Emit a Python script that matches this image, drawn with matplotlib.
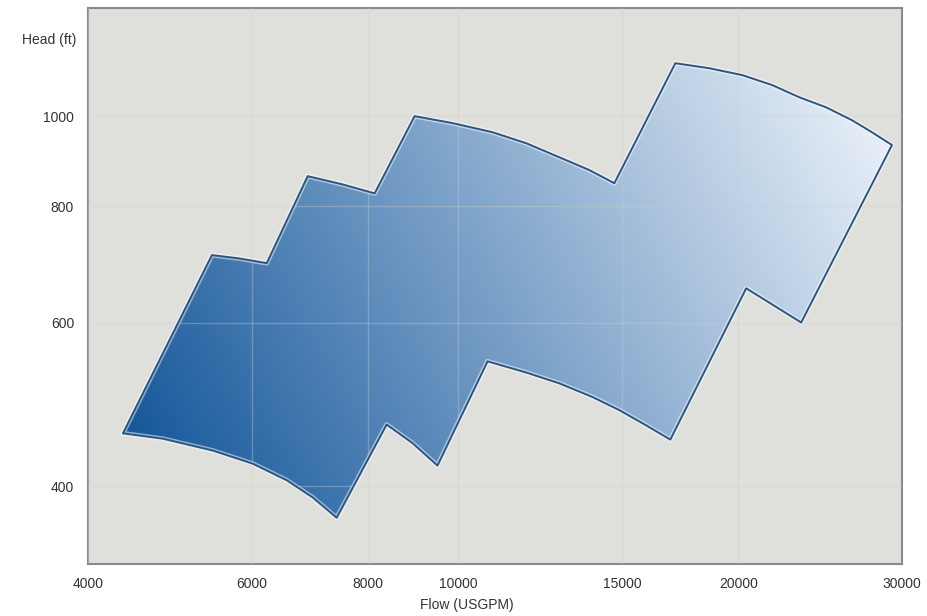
import numpy as np
import matplotlib
matplotlib.use("Agg")
import matplotlib.pyplot as plt
from matplotlib.patches import Polygon

plt.rcParams['font.family'] = ['Liberation Sans', 'DejaVu Sans']

# ---- data: outline of the pump coverage envelope (flow USGPM, head ft) ----
flow = [4361, 4814, 5447, 6015, 6542, 6978, 7403,
        8377, 8934, 9501,
        10755, 11841, 12852, 13938, 14902, 15932, 16907,
        20400, 23375,
        29265, 27845, 26507, 24866, 23257, 21753, 20198, 18616, 17118,
        14719, 13838, 12852, 11841, 10887, 9860, 8977,
        8132, 7496, 6890,
        6226, 5824, 5436]
head = [456, 450, 437, 423, 406, 389, 370,
        466, 445, 421,
        545, 530, 516, 499, 483, 465, 449,
        653, 600,
        931, 961, 990, 1022, 1048, 1080, 1107, 1126, 1140,
        847, 875, 903, 935, 961, 983, 1000,
        826, 845, 862,
        695, 703, 709]

x_ticks = [4000, 6000, 8000, 10000, 15000, 20000, 30000]
y_ticks = [400, 600, 800, 1000]

# ---- figure ----
fig = plt.figure(figsize=(9.28, 6.16), dpi=100)
ax = fig.add_axes([88/928, 52/616, 814/928, 556/616])
ax.set_facecolor('#dfdfdb')
ax.set_xscale('log')
ax.set_yscale('log')
ax.set_xlim(4000, 30000)
ax.set_ylim(330, 1307)

# gradient image in axes coords, clipped to the envelope
W, H = 400, 280
u, v = np.meshgrid(np.linspace(0, 1, W), np.linspace(1, 0, H))
px = 88 + u * 814
py = 564 - v * 556
p0 = np.array([130.0, 440.0])
d = np.array([740.0, -400.0])
t = ((px - p0[0]) * d[0] + (py - p0[1]) * d[1]) / (d @ d)
t = np.clip(t, 0, 1)[..., None]
dark = np.array([22, 88, 155]) / 255
light = np.array([240, 245, 252]) / 255
img = dark + (light - dark) * t

pts = np.column_stack([flow, head])
poly = Polygon(pts, closed=True, facecolor='none', edgecolor='none')
ax.add_patch(poly)
im = ax.imshow(img, extent=[0, 1, 0, 1], transform=ax.transAxes,
               aspect='auto', zorder=1)
im.set_clip_path(poly)

# outline with soft halo
ax.add_patch(Polygon(pts, closed=True, fill=False, edgecolor='white',
                     lw=3.5, alpha=0.5, zorder=2, joinstyle='round'))
ax.add_patch(Polygon(pts, closed=True, fill=False, edgecolor='#2c5580',
                     lw=1.4, zorder=3, joinstyle='round'))

# ---- axes style ----
ax.set_xticks(x_ticks)
ax.set_xticklabels([str(v) for v in x_ticks])
ax.set_yticks(y_ticks)
ax.set_yticklabels([str(v) for v in y_ticks])
ax.minorticks_off()
ax.tick_params(length=0, labelsize=10, labelcolor='#333333')
ax.tick_params(axis='x', pad=9)
ax.tick_params(axis='y', pad=10)
ax.grid(True, color='#cfcfca', lw=1, alpha=0.35, zorder=4)
ax.set_axisbelow(False)
for s in ax.spines.values():
    s.set_color('#8a8a8a')
    s.set_linewidth(1.5)

fig.text(76/928, 1 - 40/616, 'Head (ft)', ha='right', va='center',
         fontsize=10, color='#333333')
fig.text(467/928, 1 - 605/616, 'Flow (USGPM)', ha='center', va='center',
         fontsize=10, color='#333333')

fig.savefig('out.png', dpi=100)
